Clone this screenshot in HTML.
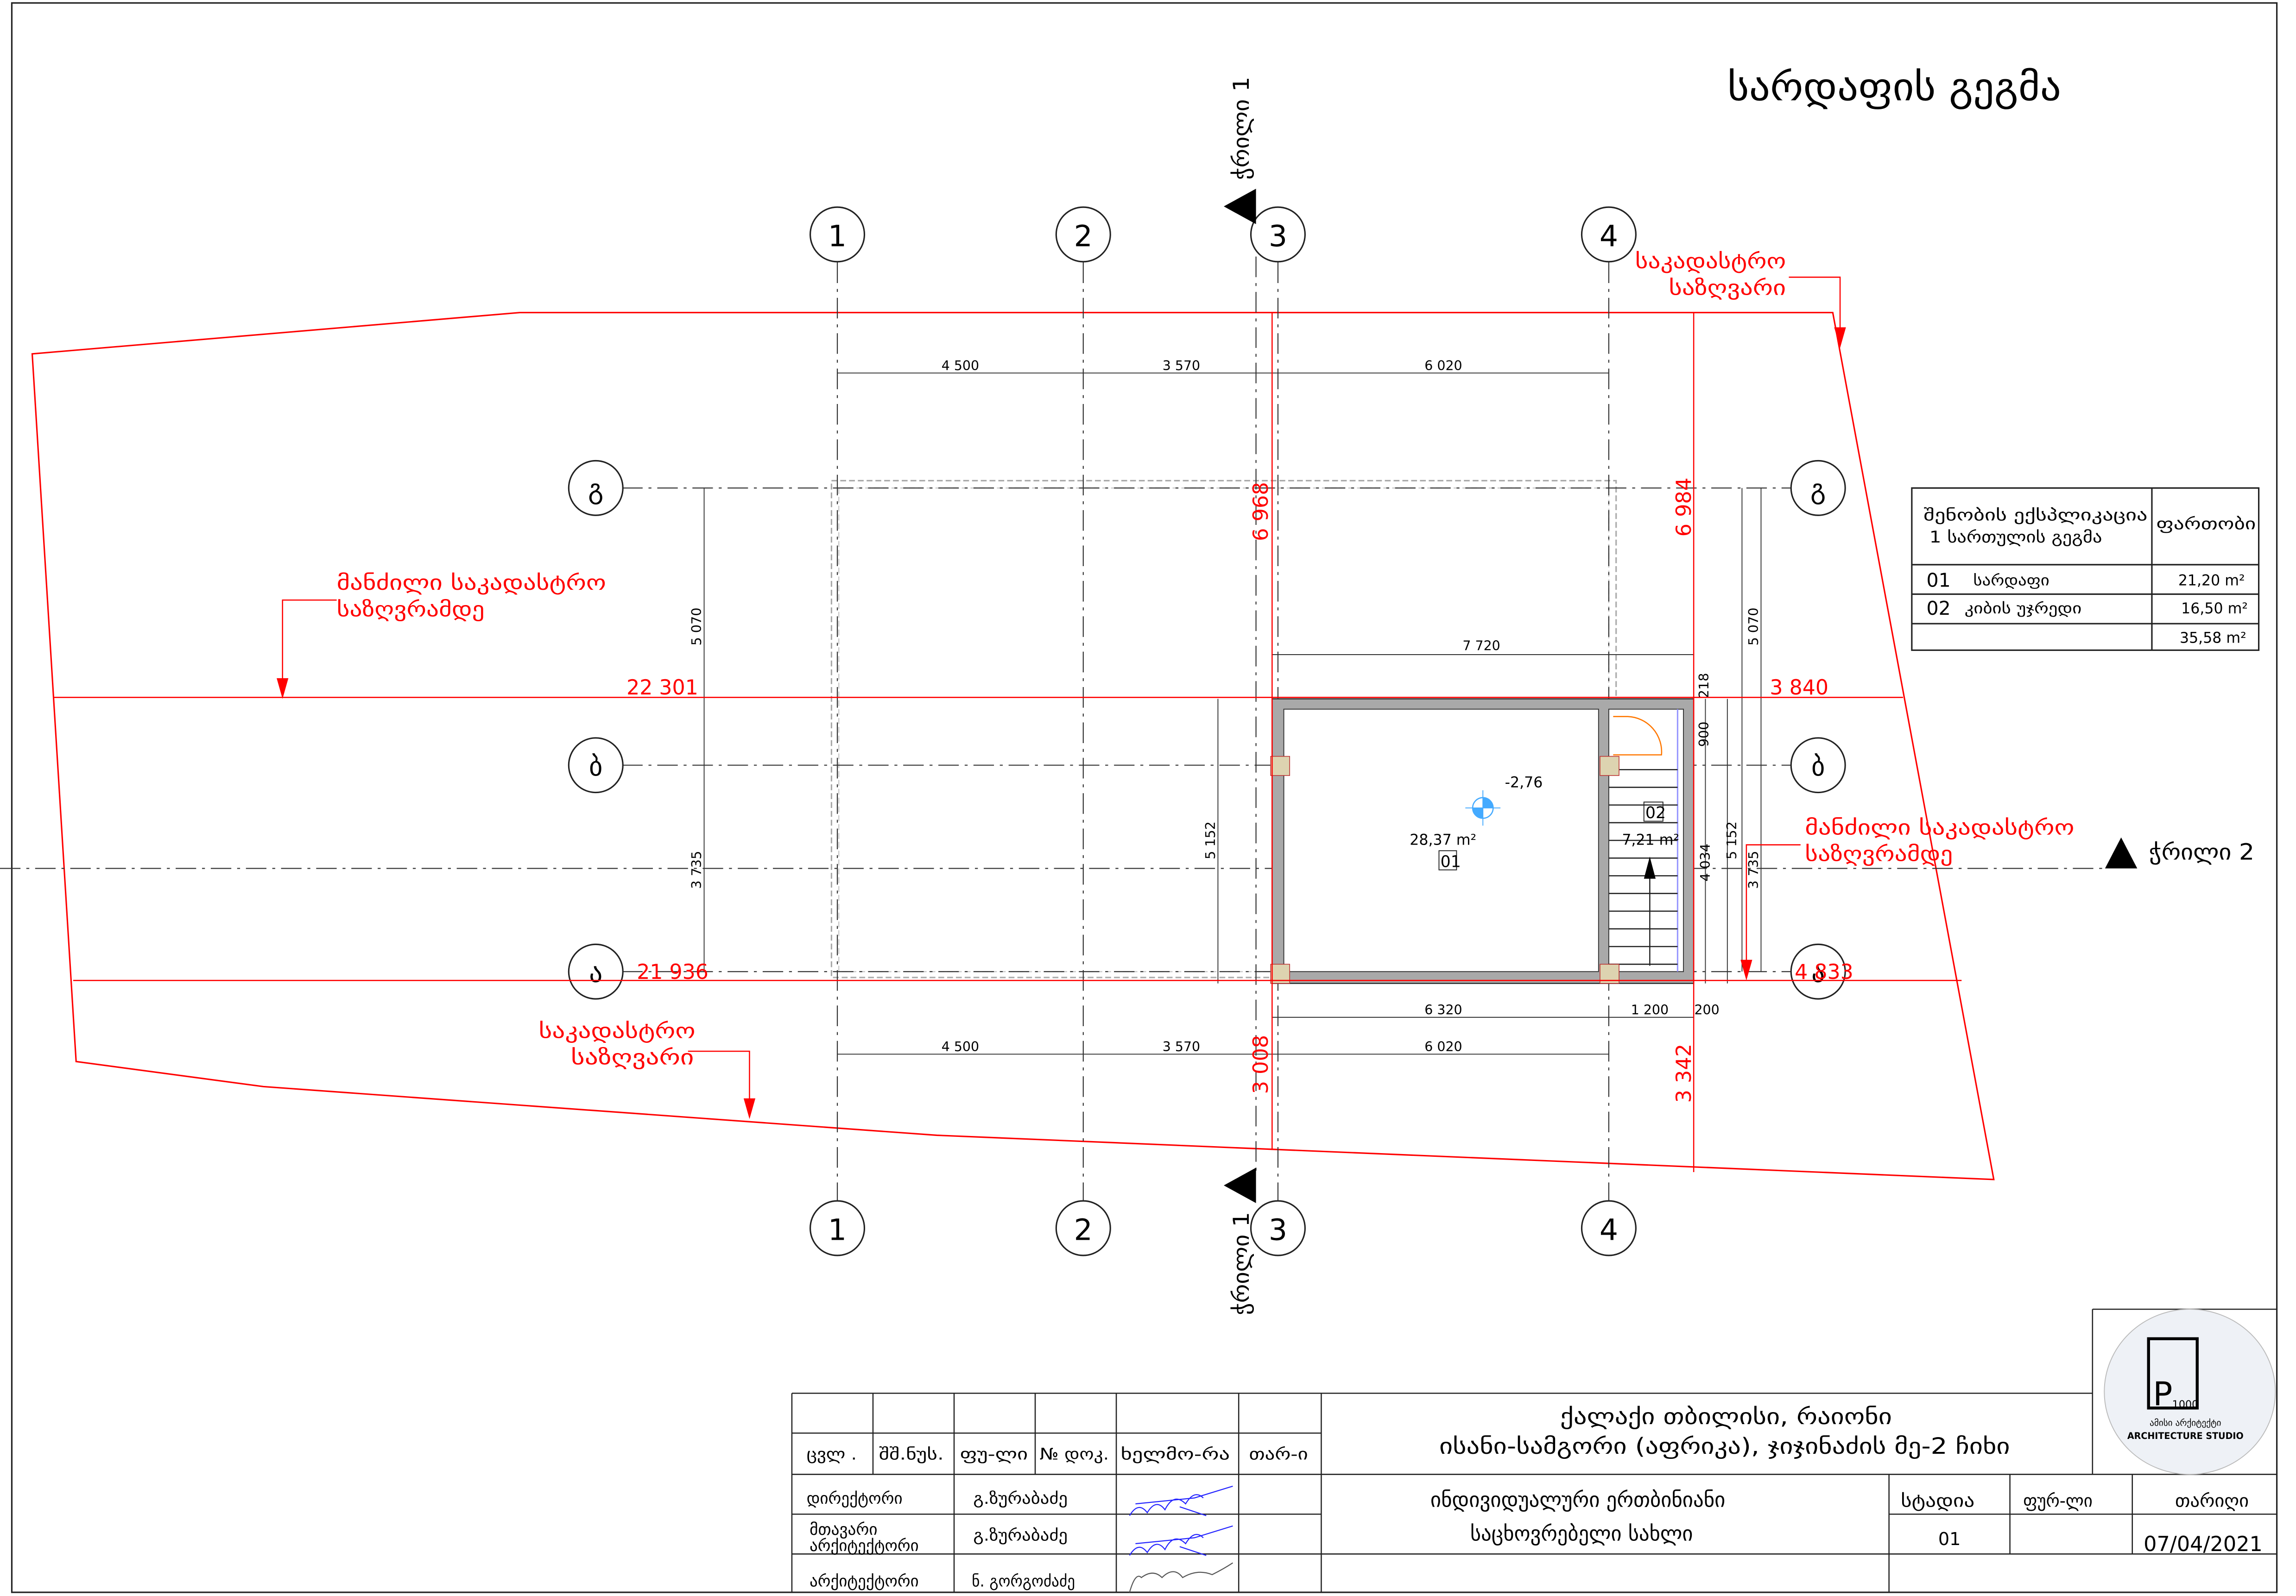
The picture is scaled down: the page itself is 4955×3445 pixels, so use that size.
<!DOCTYPE html>
<html><head><meta charset="utf-8"><style>
html,body{margin:0;padding:0;background:#fff;}
svg{display:block;}
text{font-family:"DejaVu Sans","Liberation Sans",sans-serif;}
</style></head><body>
<svg width="4955" height="3445" viewBox="0 0 1557 1082.5" preserveAspectRatio="none" xmlns="http://www.w3.org/2000/svg">
<rect x="0" y="0" width="1557" height="1083" fill="#fff"/>
<!-- frame -->
<rect x="8" y="2" width="1536" height="1078" fill="none" stroke="#222" stroke-width="1"/>

<g transform="scale(0.9927,1)">
<text x="1180" y="68" font-size="26" textLength="228" lengthAdjust="spacingAndGlyphs">სარდაფის გეგმა</text>

<!-- cadastral boundary -->
<polygon points="22,240 355,212 1252,212 1362,800 640,770 180,737 52,720" fill="none" stroke="#f00" stroke-width="1"/>

<!-- dashed gray rectangle -->
<rect x="568" y="326" width="536" height="337" fill="none" stroke="#aaa" stroke-width="1" stroke-dasharray="4 2"/>
<rect x="573" y="331" width="526" height="328" fill="none" stroke="#ccc" stroke-width="0.8" stroke-dasharray="4 2"/>

<!-- grid axes -->
<g stroke="#333" stroke-width="0.7" stroke-dasharray="14 4 2 4" fill="none">
<line x1="572" y1="178" x2="572" y2="815"/>
<line x1="740" y1="178" x2="740" y2="815"/>
<line x1="873" y1="178" x2="873" y2="815"/>
<line x1="1099" y1="178" x2="1099" y2="815"/>
<line x1="425" y1="331" x2="1224" y2="331"/>
<line x1="425" y1="519" x2="1224" y2="519"/>
<line x1="425" y1="659" x2="1224" y2="659"/>
<line x1="0" y1="589" x2="1438" y2="589"/>
<line x1="858" y1="150" x2="858" y2="795"/>
</g>
<g fill="#fff" stroke="#222" stroke-width="1">
<circle cx="572" cy="159" r="18.5"/><circle cx="740" cy="159" r="18.5"/><circle cx="873" cy="159" r="18.5"/><circle cx="1099" cy="159" r="18.5"/>
<circle cx="572" cy="833" r="18.5"/><circle cx="740" cy="833" r="18.5"/><circle cx="873" cy="833" r="18.5"/><circle cx="1099" cy="833" r="18.5"/>
<circle cx="407" cy="331" r="18.5"/><circle cx="407" cy="519" r="18.5"/><circle cx="407" cy="659" r="18.5"/>
<circle cx="1242" cy="331" r="18.5"/><circle cx="1242" cy="519" r="18.5"/><circle cx="1242" cy="659" r="18.5"/>
</g>
<g font-size="20" text-anchor="middle">
<text x="572" y="167" font-family="Liberation Sans,sans-serif">1</text><text x="740" y="167" font-family="Liberation Sans,sans-serif">2</text><text x="873" y="167" font-family="Liberation Sans,sans-serif">3</text><text x="1099" y="167" font-family="Liberation Sans,sans-serif">4</text>
<text x="572" y="841" font-family="Liberation Sans,sans-serif">1</text><text x="740" y="841" font-family="Liberation Sans,sans-serif">2</text><text x="873" y="841" font-family="Liberation Sans,sans-serif">3</text><text x="1099" y="841" font-family="Liberation Sans,sans-serif">4</text>
</g>
<g font-size="18" text-anchor="middle">
<text x="407" y="338">გ</text><text x="407" y="526">ბ</text><text x="407" y="666">ა</text>
<text x="1242" y="338">გ</text><text x="1242" y="526">ბ</text><text x="1242" y="666">ა</text>
</g>

<!-- section markers -->
<polygon points="858,128 836,140 858,152" fill="#000"/>
<polygon points="858,792 836,804 858,816" fill="#000"/>
<polygon points="1438,589 1449,568 1460,589" fill="#000"/>
<text x="0" y="0" font-size="15" transform="translate(853,122) rotate(-90)" textLength="70" lengthAdjust="spacingAndGlyphs">ჭრილი 1</text>
<text x="0" y="0" font-size="15" transform="translate(853,892) rotate(-90)" textLength="70" lengthAdjust="spacingAndGlyphs">ჭრილი 1</text>
<text x="1468" y="583" font-size="15" textLength="72" lengthAdjust="spacingAndGlyphs">ჭრილი 2</text>

<!-- black dimension lines -->
<g stroke="#333" stroke-width="0.6" fill="none">
<line x1="572" y1="253" x2="1099" y2="253"/>
<line x1="572" y1="715" x2="1099" y2="715"/>
<line x1="869" y1="690" x2="1157" y2="690"/>
<line x1="869" y1="444" x2="1157" y2="444"/>
<line x1="481" y1="331" x2="481" y2="659"/>
<line x1="1203" y1="331" x2="1203" y2="659"/>
<line x1="832" y1="474" x2="832" y2="667"/>
<line x1="1080" y1="481" x2="1080" y2="659"/>
<line x1="877" y1="646" x2="1092" y2="646"/>
<line x1="1165" y1="474" x2="1165" y2="667"/>
<line x1="1180" y1="474" x2="1180" y2="667"/>
<line x1="1190" y1="331" x2="1190" y2="659"/>
</g>
<g font-size="9" text-anchor="middle">
<text x="656" y="251" font-family="Liberation Sans,sans-serif">4 500</text><text x="807" y="251" font-family="Liberation Sans,sans-serif">3 570</text><text x="986" y="251" font-family="Liberation Sans,sans-serif">6 020</text>
<text x="656" y="713" font-family="Liberation Sans,sans-serif">4 500</text><text x="807" y="713" font-family="Liberation Sans,sans-serif">3 570</text><text x="986" y="713" font-family="Liberation Sans,sans-serif">6 020</text>
<text x="986" y="688" font-family="Liberation Sans,sans-serif">6 320</text><text x="1127" y="688" font-family="Liberation Sans,sans-serif">1 200</text><text x="1166" y="688" font-family="Liberation Sans,sans-serif">200</text>
<text x="1012" y="441" font-family="Liberation Sans,sans-serif">7 720</text>
<text x="986" y="644" font-family="Liberation Sans,sans-serif">5 920</text>
<text x="0" y="0" transform="translate(479,425) rotate(-90)" font-family="Liberation Sans,sans-serif">5 070</text>
<text x="0" y="0" transform="translate(479,590) rotate(-90)" font-family="Liberation Sans,sans-serif">3 735</text>
<text x="0" y="0" transform="translate(1201,425) rotate(-90)" font-family="Liberation Sans,sans-serif">5 070</text>
<text x="0" y="0" transform="translate(1201,590) rotate(-90)" font-family="Liberation Sans,sans-serif">3 735</text>
<text x="0" y="0" transform="translate(830,570) rotate(-90)" font-family="Liberation Sans,sans-serif">5 152</text>
<text x="0" y="0" transform="translate(1085,570) rotate(-90)" font-family="Liberation Sans,sans-serif">4 752</text>
<text x="0" y="0" transform="translate(1168,585) rotate(-90)" font-family="Liberation Sans,sans-serif">4 034</text>
<text x="0" y="0" transform="translate(1186,570) rotate(-90)" font-family="Liberation Sans,sans-serif">5 152</text>
<text x="0" y="0" transform="translate(1167,498) rotate(-90)" font-family="Liberation Sans,sans-serif">900</text>
<text x="0" y="0" transform="translate(1167,465) rotate(-90)" font-family="Liberation Sans,sans-serif">218</text>
</g>

<!-- building -->
<rect x="869" y="474" width="288" height="193" fill="#a9a9a9" stroke="#333" stroke-width="0.8"/>
<rect x="877" y="481" width="215" height="178" fill="#fff" stroke="#333" stroke-width="0.6"/>
<rect x="1099" y="481" width="51" height="178" fill="#fff" stroke="#333" stroke-width="0.6"/>
<line x1="1146" y1="481" x2="1146" y2="659" stroke="#99f" stroke-width="1"/>
<g stroke="#222" stroke-width="0.8">
<line x1="1099" y1="522" x2="1146" y2="522"/><line x1="1099" y1="534" x2="1146" y2="534"/><line x1="1099" y1="546" x2="1146" y2="546"/>
<line x1="1099" y1="558" x2="1146" y2="558"/><line x1="1099" y1="570" x2="1146" y2="570"/><line x1="1099" y1="582" x2="1146" y2="582"/>
<line x1="1099" y1="594" x2="1146" y2="594"/><line x1="1099" y1="606" x2="1146" y2="606"/><line x1="1099" y1="618" x2="1146" y2="618"/>
<line x1="1099" y1="630" x2="1146" y2="630"/><line x1="1099" y1="642" x2="1146" y2="642"/><line x1="1099" y1="654" x2="1146" y2="654"/>
<line x1="1127" y1="595" x2="1127" y2="655"/>
</g>
<polygon points="1127,581 1123,596 1131,596" fill="#000"/>
<path d="M1102,486 L1112,486 A24,24 0 0 1 1135,512 L1102,512" fill="none" stroke="#f70" stroke-width="0.8"/>
<g fill="#ddd3b0" stroke="#b33" stroke-width="0.5">
<rect x="868" y="513" width="13" height="13"/><rect x="1093" y="513" width="13" height="13"/>
<rect x="868" y="654" width="13" height="13"/><rect x="1093" y="654" width="13" height="13"/>
</g>
<circle cx="1013" cy="548" r="7" fill="#fff" stroke="#4af" stroke-width="0.8"/>
<path d="M1013,541 A7,7 0 0 1 1020,548 L1013,548Z M1013,548 L1006,548 A7,7 0 0 0 1013,555Z" fill="#4af"/>
<line x1="1001" y1="548" x2="1025" y2="548" stroke="#4af" stroke-width="0.6"/>
<line x1="1013" y1="536" x2="1013" y2="560" stroke="#4af" stroke-width="0.6"/>
<g font-size="10">
<text x="1028" y="534" font-family="Liberation Sans,sans-serif">-2,76</text>
<text x="963" y="573" font-family="Liberation Sans,sans-serif">28,37 m²</text>
<text x="1108" y="573" font-family="Liberation Sans,sans-serif">7,21 m²</text>
</g>
<rect x="983" y="577" width="12" height="13" fill="none" stroke="#222" stroke-width="0.6"/>
<text x="984" y="588" font-size="11" font-family="Liberation Serif,serif">01</text>
<rect x="1123" y="544" width="13" height="13" fill="none" stroke="#222" stroke-width="0.6"/>
<text x="1124" y="555" font-size="11" font-family="Liberation Serif,serif">02</text>

<!-- red dimensions -->
<g stroke="#f00" stroke-width="0.8" fill="none">
<line x1="37" y1="473" x2="1300" y2="473"/>
<line x1="50" y1="665" x2="1340" y2="665"/>
<line x1="869" y1="212" x2="869" y2="780"/>
<line x1="1157" y1="212" x2="1157" y2="795"/>
<polyline points="230,407 193,407 193,466"/>
<polyline points="1222,188 1257,188 1257,228"/>
<polyline points="470,713 512,713 512,750"/>
<polyline points="1230,573 1193,573 1193,657"/>
</g>
<g fill="#f00">
<polygon points="193,474 189,460 197,460"/>
<polygon points="1257,236 1253,222 1261,222"/>
<polygon points="512,759 508,745 516,745"/>
<polygon points="1193,665 1189,651 1197,651"/>
</g>
<g fill="#f00" font-size="14">
<text x="428" y="471" font-family="Liberation Sans,sans-serif">22 301</text>
<text x="435" y="664" font-family="Liberation Sans,sans-serif">21 936</text>
<text x="1209" y="471" font-family="Liberation Sans,sans-serif">3 840</text>
<text x="1226" y="664" font-family="Liberation Sans,sans-serif">4 833</text>
<text x="0" y="0" transform="translate(866,367) rotate(-90)" font-family="Liberation Sans,sans-serif">6 968</text>
<text x="0" y="0" transform="translate(866,742) rotate(-90)" font-family="Liberation Sans,sans-serif">3 008</text>
<text x="0" y="0" transform="translate(1155,364) rotate(-90)" font-family="Liberation Sans,sans-serif">6 984</text>
<text x="0" y="0" transform="translate(1155,748) rotate(-90)" font-family="Liberation Sans,sans-serif">3 342</text>
</g>
<g fill="#f00" font-size="14">
<text x="230" y="400" textLength="184" lengthAdjust="spacingAndGlyphs">მანძილი საკადასტრო</text>
<text x="230" y="418" textLength="101" lengthAdjust="spacingAndGlyphs">საზღვრამდე</text>
<text x="1117" y="182" textLength="103" lengthAdjust="spacingAndGlyphs">საკადასტრო</text>
<text x="1140" y="200" textLength="80" lengthAdjust="spacingAndGlyphs">საზღვარი</text>
<text x="368" y="704" textLength="107" lengthAdjust="spacingAndGlyphs">საკადასტრო</text>
<text x="390" y="722" textLength="84" lengthAdjust="spacingAndGlyphs">საზღვარი</text>
<text x="1233" y="566" textLength="184" lengthAdjust="spacingAndGlyphs">მანძილი საკადასტრო</text>
<text x="1233" y="584" textLength="101" lengthAdjust="spacingAndGlyphs">საზღვრამდე</text>
</g>

<!-- explication table -->
<g stroke="#222" stroke-width="1" fill="none">
<rect x="1306" y="331" width="237" height="110"/>
<line x1="1470" y1="331" x2="1470" y2="441"/>
<line x1="1306" y1="383" x2="1543" y2="383"/>
<line x1="1306" y1="403" x2="1543" y2="403"/>
<line x1="1306" y1="423" x2="1543" y2="423"/>
</g>
<g font-size="11">
<text x="1314" y="353" textLength="153" lengthAdjust="spacingAndGlyphs">შენობის ექსპლიკაცია</text>
<text x="1318" y="368" textLength="118" lengthAdjust="spacingAndGlyphs">1 სართულის გეგმა</text>
<text x="1473" y="359" textLength="68" lengthAdjust="spacingAndGlyphs">ფართობი</text>
<text x="1316" y="398" font-family="Liberation Serif,serif" font-size="13">01</text>
<text x="1348" y="397" font-size="10" textLength="52" lengthAdjust="spacingAndGlyphs">სარდაფი</text>
<text x="1316" y="417" font-family="Liberation Serif,serif" font-size="13">02</text>
<text x="1342" y="416" font-size="10" textLength="80" lengthAdjust="spacingAndGlyphs">კიბის უჯრედი</text>
</g>
<g font-size="10">
<text x="1488" y="397" font-family="Liberation Sans,sans-serif">21,20 m²</text>
<text x="1490" y="416" font-family="Liberation Sans,sans-serif">16,50 m²</text>
<text x="1489" y="436" font-family="Liberation Sans,sans-serif">35,58 m²</text>
</g>
</g>

<!-- title block -->
<g stroke="#222" stroke-width="0.8" fill="none">
<line x1="537" y1="945" x2="1419" y2="945"/>
<line x1="1419" y1="888" x2="1419" y2="1000"/>
<line x1="1419" y1="888" x2="1544" y2="888"/>
<line x1="537" y1="945" x2="537" y2="1080"/>
<line x1="537" y1="972" x2="896" y2="972"/>
<line x1="537" y1="1000" x2="1544" y2="1000"/>
<line x1="537" y1="1027" x2="896" y2="1027"/>
<line x1="1281" y1="1027" x2="1544" y2="1027"/>
<line x1="537" y1="1054" x2="1544" y2="1054"/>
<line x1="592" y1="945" x2="592" y2="1000"/>
<line x1="647" y1="945" x2="647" y2="1080"/>
<line x1="702" y1="945" x2="702" y2="1000"/>
<line x1="757" y1="945" x2="757" y2="1080"/>
<line x1="840" y1="945" x2="840" y2="1080"/>
<line x1="896" y1="945" x2="896" y2="1080"/>
<line x1="1281" y1="1000" x2="1281" y2="1080"/>
<line x1="1363" y1="1000" x2="1363" y2="1054"/>
<line x1="1446" y1="1000" x2="1446" y2="1054"/>
</g>
<g font-size="11">
<text x="547" y="990" textLength="34" lengthAdjust="spacingAndGlyphs">ცვლ .</text>
<text x="596" y="990" textLength="44" lengthAdjust="spacingAndGlyphs">შშ.ნუს.</text>
<text x="651" y="990" textLength="46" lengthAdjust="spacingAndGlyphs">ფუ-ლი</text>
<text x="705" y="990" textLength="47" lengthAdjust="spacingAndGlyphs">№ დოკ.</text>
<text x="760" y="990" textLength="74" lengthAdjust="spacingAndGlyphs">ხელმო-რა</text>
<text x="847" y="990" textLength="40" lengthAdjust="spacingAndGlyphs">თარ-ი</text>
<text x="547" y="1020" textLength="65" lengthAdjust="spacingAndGlyphs">დირექტორი</text>
<text x="660" y="1020" textLength="64" lengthAdjust="spacingAndGlyphs">გ.ზურაბაძე</text>
<text x="549" y="1041" textLength="46" lengthAdjust="spacingAndGlyphs">მთავარი</text>
<text x="549" y="1052" textLength="74" lengthAdjust="spacingAndGlyphs">არქიტექტორი</text>
<text x="660" y="1045" textLength="64" lengthAdjust="spacingAndGlyphs">გ.ზურაბაძე</text>
<text x="549" y="1076" textLength="74" lengthAdjust="spacingAndGlyphs">არქიტექტორი</text>
<text x="659" y="1076" textLength="70" lengthAdjust="spacingAndGlyphs">ნ. გორგოძაძე</text>
</g>
<g font-size="15">
<text x="1058" y="966" textLength="225" lengthAdjust="spacingAndGlyphs">ქალაქი თბილისი, რაიონი</text>
<text x="976" y="986" textLength="387" lengthAdjust="spacingAndGlyphs">ისანი-სამგორი (აფრიკა), ჯიჯინაძის მე-2 ჩიხი</text>
<text x="970" y="1022" font-size="14" textLength="200" lengthAdjust="spacingAndGlyphs">ინდივიდუალური ერთბინიანი</text>
<text x="997" y="1045" font-size="14" textLength="151" lengthAdjust="spacingAndGlyphs">საცხოვრებელი სახლი</text>
</g>
<g font-size="12">
<text x="1289" y="1022" textLength="50" lengthAdjust="spacingAndGlyphs">სტადია</text>
<text x="1372" y="1022" textLength="47" lengthAdjust="spacingAndGlyphs">ფურ-ლი</text>
<text x="1475" y="1022" textLength="50" lengthAdjust="spacingAndGlyphs">თარიღი</text>
<text x="1322" y="1048" text-anchor="middle" font-family="Liberation Serif,serif">01</text>
<text x="1494" y="1052" text-anchor="middle" font-family="Liberation Serif,serif" font-size="14">07/04/2021</text>
</g>
<!-- signatures -->
<g fill="none" stroke="#22f" stroke-width="0.7">
<path d="M766,1028 q6,-10 12,-2 q6,-10 12,-2 q6,-12 14,-4 q6,-10 12,-4 M770,1020 l40,-4 l26,-8 M800,1022 l18,6"/>
<path d="M766,1055 q6,-10 12,-2 q6,-10 12,-2 q6,-12 14,-4 q6,-10 12,-4 M770,1047 l40,-4 l26,-8 M800,1049 l18,6"/>
</g>
<path d="M766,1080 q4,-14 8,-10 q8,-6 14,0 q8,-8 14,0 q10,-6 20,-2 q8,-4 14,-8" fill="none" stroke="#555" stroke-width="0.7"/>
<!-- logo -->
<ellipse cx="1485" cy="944" rx="58" ry="56" fill="#eef1f6" stroke="#bbb" stroke-width="0.6"/>
<rect x="1457" y="908" width="33" height="47" fill="none" stroke="#000" stroke-width="2"/>
<text x="1460" y="953" font-size="22" font-family="Liberation Sans,sans-serif">P</text>
<text x="1473" y="955" font-size="7" font-family="Liberation Sans,sans-serif">1000</text>
<text x="1482" y="967" font-size="6" text-anchor="middle">ამისი არქიტექტი</text>
<text x="1482" y="976" font-size="6" text-anchor="middle" font-family="Liberation Sans,sans-serif" font-weight="bold">ARCHITECTURE STUDIO</text>
</svg>
</body></html>
